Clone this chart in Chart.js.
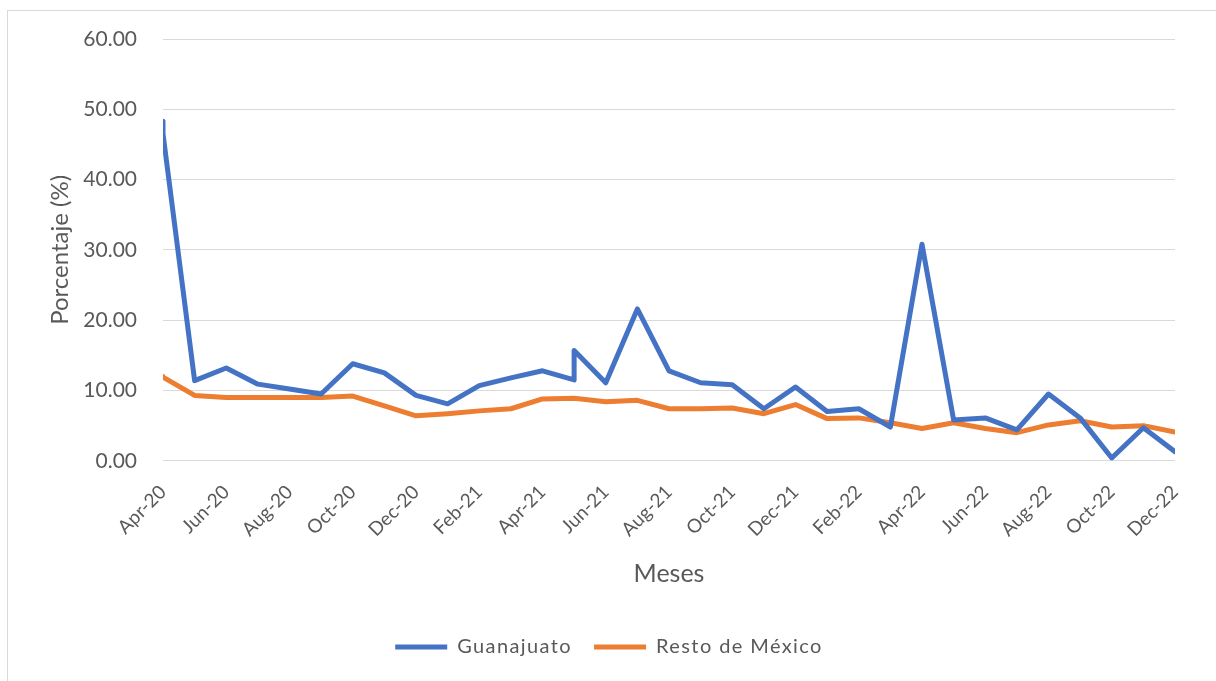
<!DOCTYPE html>
<html>
<head>
<meta charset="utf-8">
<script src="https://cdn.jsdelivr.net/npm/chart.js@4.4.1/dist/chart.umd.min.js"></script>
<style>
  html, body { margin: 0; padding: 0; background: #fff; overflow: hidden; }
  #marco { position: absolute; left: 7px; top: 10px; width: 1240px; height: 720px; border: 1px solid #d9d9d9; }
  #grafico { position: absolute; left: 0; top: 0; }
</style>
</head>
<body>
<div id="marco"></div>
<canvas id="grafico" width="1216" height="681"></canvas>
<script>
// etiquetas del eje x (un mes por indice, Apr-20 = 0)
const meses = ["Apr-20","May-20","Jun-20","Jul-20","Aug-20","Sep-20","Oct-20","Nov-20","Dec-20",
  "Jan-21","Feb-21","Mar-21","Apr-21","May-21","Jun-21","Jul-21","Aug-21","Sep-21","Oct-21","Nov-21","Dec-21",
  "Jan-22","Feb-22","Mar-22","Apr-22","May-22","Jun-22","Jul-22","Aug-22","Sep-22","Oct-22","Nov-22","Dec-22"]

// indice de mes de cada registro (hay dos registros en Apr-20 y en May-21)
const indiceMes = [0,0,1,2,3,4,5,6,7,8,9,10,11,12,13,13,14,15,16,17,18,19,20,21,22,23,24,25,26,27,28,29,30,31,32]

const guanajuato = [48.3,46.5,11.4,13.2,10.9,10.2,9.5,13.8,12.5,9.3,8.1,10.7,11.8,12.8,11.5,15.7,11.1,21.6,12.8,11.1,10.8,
  7.4,10.5,7.0,7.4,4.8,30.8,5.8,6.1,4.4,9.5,6.1,0.4,4.7,1.3]

const restoMexico = [12.0,11.9,9.3,9.0,9.0,9.0,9.0,9.2,7.8,6.4,6.7,7.1,7.4,8.8,8.9,8.9,8.4,8.6,7.4,7.4,7.5,
  6.7,8.0,6.0,6.1,5.4,4.6,5.4,4.6,4.0,5.1,5.7,4.8,5.0,4.1]

const ticksY = [0,10,20,30,40,50,60]

const puntos = (valores) => valores.map((v, i) => ({ x: indiceMes[i], y: v }))

const gris = "#595959"
const fuente = "Lato, 'Open Sans', sans-serif"

// espaciado de letras solo para la leyenda
const espaciadoLeyenda = {
  id: "espaciadoLeyenda",
  beforeDraw: (chart) => {
    const lg = chart.legend
    if (lg && !lg._envuelto) {
      const original = lg.draw.bind(lg)
      lg.draw = function () {
        chart.ctx.save()
        chart.ctx.letterSpacing = "1.4px"
        original()
        chart.ctx.restore()
      }
      lg._envuelto = true
    }
  }
}

const lienzo = document.getElementById("grafico")

new Chart(lienzo, {
  type: "line",
  data: {
    datasets: [
      {
        label: "Guanajuato",
        data: puntos(guanajuato),
        borderColor: "#4472C4",
        backgroundColor: "#4472C4",
        borderWidth: 5,
        pointRadius: 0,
        tension: 0,
        borderJoinStyle: "round",
        borderCapStyle: "round",
      },
      {
        label: "Resto de México",
        data: puntos(restoMexico),
        borderColor: "#ED7D31",
        backgroundColor: "#ED7D31",
        borderWidth: 5,
        pointRadius: 0,
        tension: 0,
        borderJoinStyle: "round",
        borderCapStyle: "round",
      },
    ],
  },
  options: {
    responsive: false,
    animation: false,
    layout: { padding: { left: 8, right: 41, top: 39, bottom: 14 } },
    scales: {
      x: {
        type: "linear",
        min: 0,
        max: 32,
        grid: { display: false },
        border: { display: false },
        ticks: {
          stepSize: 2,
          autoSkip: false,
          minRotation: 45,
          maxRotation: 45,
          padding: 12,
          color: gris,
          font: { family: fuente, size: 19 },
          callback: (v) => meses[v],
        },
        title: {
          display: true,
          text: "Meses",
          color: gris,
          font: { family: fuente, size: 25 },
          padding: { top: 6, bottom: 26 },
        },
      },
      y: {
        min: 0,
        max: 60,
        afterBuildTicks: (eje) => { eje.ticks = ticksY.map((v) => ({ value: v })) },
        afterFit: (eje) => { eje.width = 155 },
        grid: { color: "#d9d9d9", lineWidth: 1, drawTicks: false },
        border: { display: false },
        ticks: {
          padding: 26,
          color: gris,
          font: { family: fuente, size: 21 },
          callback: (v) => v.toFixed(2),
        },
        title: {
          display: true,
          text: "Porcentaje (%)",
          color: gris,
          font: { family: fuente, size: 24 },
          padding: { top: 38, bottom: 0 },
        },
      },
    },
    plugins: {
      legend: {
        position: "bottom",
        labels: {
          usePointStyle: true,
          pointStyle: "line",
          pointStyleWidth: 52,
          padding: 22,
          color: gris,
          font: { family: fuente, size: 20 },
        },
      },
      tooltip: { enabled: false },
    },
  },
  plugins: [espaciadoLeyenda],
})
</script>
</body>
</html>
